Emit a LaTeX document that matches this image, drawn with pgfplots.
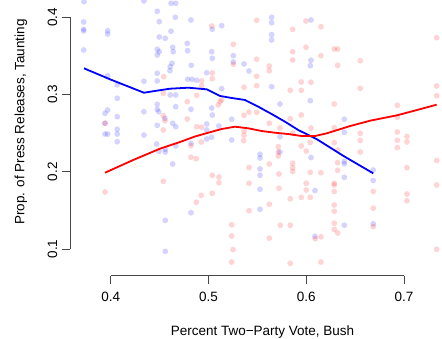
\documentclass[border=0pt]{standalone}
\usepackage{pgfplots}
\pgfplotsset{compat=1.18}
\usepackage{pgfplotstable}
\usepackage{fontspec}
\setmainfont{Liberation Sans}

\pgfplotstableread{
x y
0.3727 0.4202
0.4340 0.4211
0.4617 0.4181
0.4665 0.4181
0.4476 0.4078
0.4661 0.4000
0.3724 0.3939
0.4497 0.3943
0.4821 0.3965
0.3724 0.3845
0.3724 0.3823
0.3969 0.3826
0.3969 0.3784
0.4617 0.3819
0.4497 0.3745
0.4558 0.3728
0.4783 0.3663
0.3724 0.3576
0.4634 0.3611
0.4476 0.3585
0.4497 0.3554
0.4476 0.3512
0.4640 0.3554
0.4787 0.3567
0.4627 0.3404
0.4609 0.3360
0.4606 0.3308
0.4476 0.3275
0.3969 0.3240
0.4067 0.3127
0.4340 0.3171
0.4476 0.3175
0.4787 0.3197
0.4831 0.3197
0.4609 0.2994
0.4665 0.2994
0.4067 0.2951
0.4476 0.2873
0.4476 0.2808
0.4491 0.2777
0.4665 0.2842
0.4340 0.2777
0.3969 0.2799
0.3942 0.2756
0.4067 0.2712
0.4555 0.2692
0.4634 0.2627
0.4665 0.2583
0.4476 0.2601
0.4067 0.2549
0.4067 0.2488
0.3942 0.2488
0.3969 0.2488
0.4340 0.2475
0.3942 0.2627
0.4824 0.3378
0.4821 0.2808
0.5646 0.4000
0.5646 0.3930
0.5135 0.3891
0.5039 0.3845
0.6048 0.3965
0.5646 0.3775
0.5646 0.3706
0.5033 0.3554
0.5039 0.3469
0.5254 0.3503
0.5254 0.3421
0.5363 0.3395
0.6048 0.3443
0.6041 0.3373
0.4982 0.3282
0.5414 0.3304
0.4879 0.3184
0.5135 0.3075
0.5646 0.3101
0.5731 0.2877
0.6041 0.2920
0.5033 0.2825
0.5039 0.2734
0.5237 0.2679
0.4982 0.2618
0.4982 0.2540
0.5107 0.2592
0.5033 0.2446
0.5731 0.2453
0.6389 0.2679
0.6389 0.2510
0.4067 0.2389
0.4470 0.2359
0.4494 0.2264
0.4558 0.2290
0.4558 0.2255
0.4665 0.2333
0.4634 0.2100
0.4821 0.2368
0.4558 0.1370
0.4558 0.0969
0.4821 0.1469
0.4982 0.2424
0.5237 0.2411
0.5527 0.2225
0.5527 0.2177
0.5527 0.2035
0.5527 0.1953
0.5527 0.1772
0.5527 0.1513
0.5731 0.2255
0.6048 0.2184
0.6089 0.1756
0.6089 0.1163
0.6389 0.2132
0.6389 0.2102
0.6389 0.1927
0.6389 0.1307
0.6685 0.2022
0.6685 0.1886
0.6685 0.1325
}\bluepts

\pgfplotstableread{
x y
0.4542 0.3231
0.4538 0.3016
0.4783 0.2907
0.4538 0.2725
0.4555 0.2661
0.4783 0.2683
0.4538 0.2540
0.3942 0.2627
0.5033 0.3887
0.5493 0.3961
0.5861 0.3845
0.5997 0.3952
0.5254 0.3650
0.5493 0.3456
0.5861 0.3554
0.5861 0.3447
0.5997 0.3611
0.5254 0.3391
0.5622 0.3369
0.5622 0.3308
0.5039 0.3278
0.5039 0.3205
0.4930 0.3175
0.4930 0.3110
0.4879 0.2990
0.5493 0.3236
0.5493 0.3114
0.5363 0.3093
0.5836 0.3054
0.5949 0.3162
0.5949 0.3054
0.6048 0.3158
0.5135 0.2929
0.5118 0.2907
0.5100 0.2864
0.5414 0.2773
0.5363 0.2731
0.5836 0.2686
0.5949 0.2734
0.5622 0.2627
0.5731 0.2566
0.4879 0.2583
0.4930 0.2575
0.5363 0.2527
0.5363 0.2472
0.6048 0.2566
0.5861 0.2497
0.5493 0.2769
0.6150 0.3878
0.6286 0.3589
0.6321 0.3589
0.6150 0.3503
0.6321 0.3378
0.6552 0.3438
0.6552 0.3080
0.7333 0.3736
0.7333 0.3110
0.7333 0.2984
0.6286 0.2877
0.6931 0.2860
0.6931 0.2705
0.6286 0.2570
0.6552 0.2497
0.6931 0.2514
0.7030 0.2456
0.3942 0.1737
0.4538 0.1876
0.4821 0.2187
0.4875 0.2168
0.4926 0.2385
0.4821 0.2337
0.5039 0.1953
0.5107 0.1931
0.5107 0.1858
0.5039 0.1720
0.4926 0.1694
0.4875 0.1604
0.5414 0.2054
0.5414 0.1850
0.5414 0.1495
0.5237 0.1313
0.5237 0.1167
0.5251 0.0992
0.5237 0.0830
0.5360 0.2402
0.5622 0.2100
0.5714 0.2324
0.5714 0.2255
0.5714 0.2203
0.5861 0.2109
0.5861 0.2052
0.5861 0.2003
0.5721 0.1970
0.5721 0.1785
0.5949 0.2333
0.6000 0.2268
0.6041 0.1992
0.6000 0.1850
0.6000 0.1763
0.5949 0.1668
0.6041 0.1668
0.5836 0.1650
0.5622 0.1578
0.5734 0.1306
0.5836 0.1306
0.5622 0.1139
0.5836 0.0813
0.6091 0.1132
0.6041 0.2378
0.6286 0.2376
0.6552 0.2407
0.6552 0.2255
0.6324 0.2281
0.6931 0.2407
0.6931 0.2313
0.7030 0.2385
0.6321 0.2117
0.6321 0.2018
0.6150 0.1987
0.6286 0.1850
0.6286 0.1828
0.6286 0.1744
0.6286 0.1569
0.6286 0.1487
0.6286 0.1332
0.6286 0.1251
0.6321 0.1206
0.6685 0.1744
0.6685 0.1527
0.6685 0.1288
0.7030 0.2052
0.7030 0.1711
0.7030 0.1623
0.7333 0.2145
0.7333 0.1828
0.7333 0.0995
0.6150 0.1157
0.6150 0.0830
}\redpts

\begin{document}
\fontsize{13.5bp}{16bp}\selectfont
\begin{tikzpicture}
\path[use as bounding box] (-70bp,-63.3bp) rectangle (372bp,275.7bp);
\begin{axis}[
  at={(0,0)}, anchor=south west,
  scale only axis, width=372bp, height=275.7bp,
  xmin=0.3584, xmax=0.7388, ymin=0.0653, ymax=0.4224,
  axis line style={draw=none},
  tick pos=left, tick align=outside, major tick length=8bp,
  tick style={black!72, line width=0.8bp},
  xtick={0.4,0.5,0.6,0.7}, ytick={0.1,0.2,0.3,0.4},
  xticklabels={0.4,0.5,0.6,0.7}, yticklabels={0.1,0.2,0.3,0.4},
  /pgf/number format/assume math mode=true,
  yticklabel style={rotate=90, anchor=south},
  xticklabel style={anchor=north, yshift=-4bp},
  clip mode=individual,
  xlabel={Percent Two−Party Vote, Bush},
  ylabel={Prop. of Press Releases, Taunting},
  xlabel style={at={(axis description cs:0.5175,-0.2031)}, anchor=center},
  ylabel style={at={(axis description cs:-0.1317,0.5575)}, anchor=center},
]
\addplot[only marks, mark=*, mark size=2.9bp, draw opacity=0, mark options={draw opacity=0, draw=none, fill=blue, fill opacity=0.17}] table {\bluepts};
\addplot[only marks, mark=*, mark size=2.9bp, draw opacity=0, mark options={draw opacity=0, draw=none, fill=red, fill opacity=0.17}] table {\redpts};
\addplot[blue, line width=1.8bp] coordinates {
(0.3727,0.3339) (0.3993,0.3197) (0.4340,0.3023) (0.4470,0.3049) (0.4606,0.3075)
(0.4793,0.3088) (0.4982,0.3067) (0.5118,0.2981) (0.5237,0.2955) (0.5373,0.2929)
(0.5509,0.2842) (0.5646,0.2747) (0.5782,0.2648) (0.5918,0.2540) (0.6109,0.2420)
(0.6382,0.2203) (0.6685,0.1979)};
\addplot[red, line width=1.8bp] coordinates {
(0.3942,0.1987) (0.4231,0.2152) (0.4504,0.2298) (0.4709,0.2385) (0.4862,0.2456)
(0.4998,0.2505) (0.5135,0.2553) (0.5271,0.2583) (0.5407,0.2562) (0.5544,0.2527)
(0.5680,0.2505) (0.5816,0.2488) (0.5953,0.2462) (0.6089,0.2462) (0.6209,0.2497)
(0.6450,0.2592) (0.6654,0.2661) (0.6930,0.2731) (0.7132,0.2799) (0.7333,0.2868)};
\draw[black!72, line width=0.8bp] (axis cs:0.4,0.0653) -- (axis cs:0.7,0.0653);
\draw[black!72, line width=0.8bp] (axis cs:0.3584,0.1) -- (axis cs:0.3584,0.4);
\end{axis}
\end{tikzpicture}
\end{document}
